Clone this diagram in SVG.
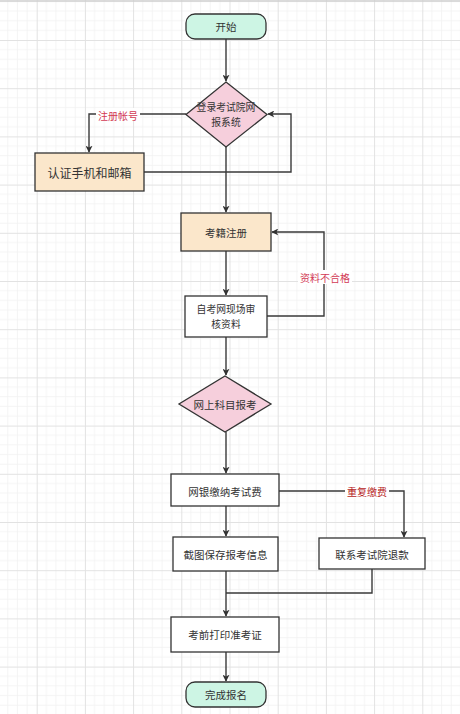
<svg xmlns="http://www.w3.org/2000/svg" width="460" height="714" viewBox="0 0 460 714">
<defs>
<pattern id="grid" patternUnits="userSpaceOnUse" x="36.7" y="40" width="48.2" height="48.2">
<path d="M9.64 0V48.2M19.28 0V48.2M28.92 0V48.2M38.56 0V48.2M0 9.64H48.2M0 19.28H48.2M0 28.92H48.2M0 38.56H48.2" stroke="#f2f2f2" stroke-width="0.8" fill="none"/>
<path d="M0.5 0V48.2M0 0.5H48.2" stroke="#e2e2e2" stroke-width="1" fill="none"/>
</pattern>
<marker id="arr" viewBox="0 0 10 10" refX="9" refY="5" markerWidth="7" markerHeight="7" markerUnits="userSpaceOnUse" orient="auto">
<path d="M0 0L10 5L0 10L2.5 5Z" fill="#333"/>
</marker>
<style>
.ln{fill:none;stroke:#3a3a3a;stroke-width:1.4;}
.a{marker-end:url(#arr);}
.box{stroke:#333;stroke-width:1.3;}
.w{fill:#ffffff;}
.p{fill:#fbe7cb;}
.g{fill:#cdf5e4;}
.d{fill:#f6cfdc;}
.t{font-family:"Noto Sans CJK SC","Noto Sans",sans-serif;font-size:10.5px;fill:#333;text-anchor:middle;dominant-baseline:central;}
.t2{font-family:"Noto Sans CJK SC","Noto Sans",sans-serif;font-size:9.8px;fill:#333;text-anchor:middle;dominant-baseline:central;}
.lbl{font-family:"Noto Sans CJK SC","Noto Sans",sans-serif;font-size:10px;text-anchor:middle;dominant-baseline:central;}
</style>
</defs>
<rect width="460" height="714" fill="#ffffff"/>
<rect width="460" height="714" fill="url(#grid)"/>
<line x1="0" y1="1" x2="460" y2="1" stroke="#cfcfcf" stroke-width="1.5"/>

<g id="connectors">
<path class="ln a" d="M226 39V81"/>
<path class="ln a" d="M186 114H89V152"/>
<rect x="96" y="108" width="44" height="13" fill="#ffffff"/>
<text class="lbl" x="118" y="115" fill="#d23a55">注册帐号</text>
<path class="ln a" d="M144 172H291V114H268"/>
<path class="ln a" d="M226 147V212"/>
<path class="ln a" d="M226 251V295"/>
<path class="ln a" d="M267 316H324V232H272"/>
<rect x="298" y="270" width="54" height="14" fill="#ffffff"/>
<text class="lbl" x="325" y="277" fill="#d23a55">资料不合格</text>
<path class="ln a" d="M226 337V375"/>
<path class="ln a" d="M226 432V473"/>
<path class="ln a" d="M279 491H404V537"/>
<rect x="345" y="485" width="44" height="13" fill="#ffffff"/>
<text class="lbl" x="367" y="491" fill="#b51a1a">重复缴费</text>
<path class="ln a" d="M226 506V536"/>
<path class="ln a" d="M226 571V616"/>
<path class="ln" d="M372 569V593H226"/>
<path class="ln a" d="M226 652V681"/>
</g>

<g id="start">
<rect class="box g" x="186" y="14" width="80" height="25" rx="9"/>
<text class="t" x="226" y="26.5">开始</text>
</g>
<g id="login">
<path class="box d" d="M226 82L267 114.5L226 147L186 114.5Z"/>
<text class="t2" x="226" y="107.2">登录考试院网</text>
<text class="t2" x="226" y="121.8">报系统</text>
</g>
<g id="verify">
<rect class="box p" x="35" y="153" width="109" height="38"/>
<text class="t" x="89.5" y="172" style="font-size:12px">认证手机和邮箱</text>
</g>
<g id="register">
<rect class="box p" x="181" y="213" width="90" height="38"/>
<text class="t" x="226" y="232">考籍注册</text>
</g>
<g id="review">
<rect class="box w" x="185" y="296" width="82" height="41"/>
<text class="t2" x="226" y="309.2">自考网现场审</text>
<text class="t2" x="226" y="323.8">核资料</text>
</g>
<g id="apply">
<path class="box d" d="M225 376L271 404L225 432L179 404Z"/>
<text class="t" x="225" y="404">网上科目报考</text>
</g>
<g id="pay">
<rect class="box w" x="171" y="474" width="108" height="32"/>
<text class="t" x="225" y="491">网银缴纳考试费</text>
</g>
<g id="save">
<rect class="box w" x="173" y="537" width="105" height="34"/>
<text class="t" x="225.5" y="554">截图保存报考信息</text>
</g>
<g id="refund">
<rect class="box w" x="319" y="538" width="106" height="31"/>
<text class="t" x="372" y="554">联系考试院退款</text>
</g>
<g id="print">
<rect class="box w" x="171" y="617" width="108" height="35"/>
<text class="t" x="225" y="634">考前打印准考证</text>
</g>
<g id="done">
<rect class="box g" x="186" y="682" width="80" height="25" rx="9"/>
<text class="t" x="226" y="694.5">完成报名</text>
</g>
</svg>
